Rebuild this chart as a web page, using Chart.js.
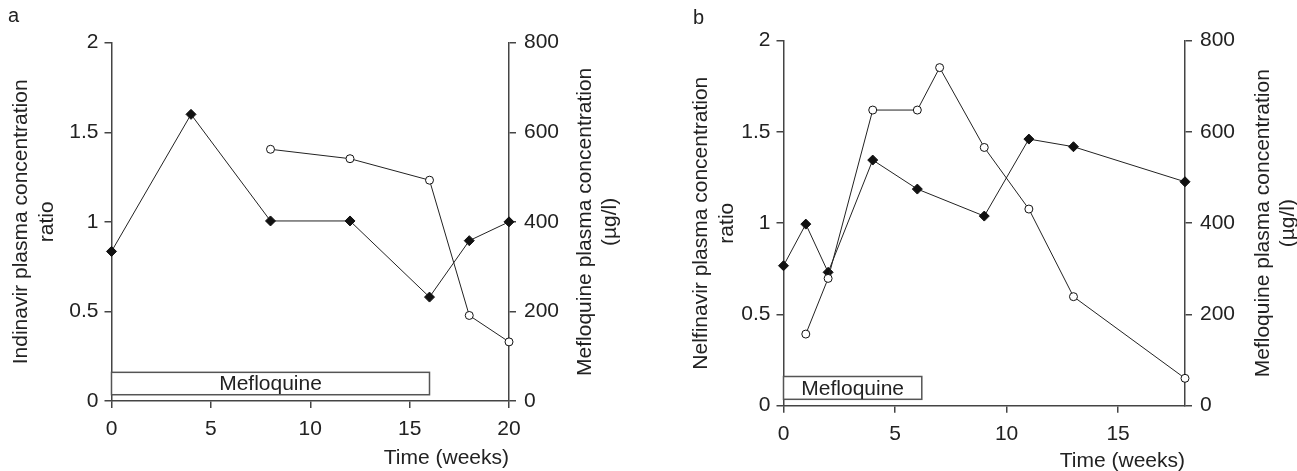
<!DOCTYPE html>
<html>
<head>
<meta charset="utf-8">
<script src="https://cdn.jsdelivr.net/npm/chart.js@4.4.1/dist/chart.umd.min.js"></script>
<style>
  html, body { margin: 0; padding: 0; background: #fff; }
  #wrap { position: relative; width: 1297px; height: 471px; }
  #panelA { position: absolute; left: 0; top: 0; }
  #panelB { position: absolute; left: 648px; top: 0; }
</style>
</head>
<body>
<div id="wrap">
  <canvas id="panelA" width="648" height="471"></canvas>
  <canvas id="panelB" width="649" height="471"></canvas>
</div>
<script>
// Panel a - indinavir
const weeksA = [0, 4, 8, 12, 16, 18, 20];
const indinavirRatio = [0.835, 1.60, 1.005, 1.005, 0.58, 0.895, 1.0];
const mefWeeksA = [8, 12, 16, 18, 20];
const mefConcA = [562, 541, 493, 191, 132];
const dosingA = [0, 16];

// Panel b - nelfinavir
const weeksB = [0, 1, 2, 4, 6, 9, 11, 13, 18];
const nelfinavirRatio = [0.767, 0.995, 0.731, 1.346, 1.187, 1.039, 1.461, 1.419, 1.227];
const mefWeeksB = [1, 2, 4, 6, 7, 9, 11, 13, 18];
const mefConcB = [157, 279, 648, 648, 741, 566, 431, 239, 60];
const dosingB = [0, 6.2];

// Ticks
const ratioTicks = [0, 0.5, 1, 1.5, 2];
const ratioTickLabels = ['0', '0.5', '1', '1.5', '2'];
const mefTicks = [0, 200, 400, 600, 800];
const mefTickLabels = ['0', '200', '400', '600', '800'];
const weekTicksA = [0, 5, 10, 15, 20];
const weekTicksB = [0, 5, 10, 15];
const weekTickLabelsA = ['0', '5', '10', '15', '20'];
const weekTickLabelsB = ['0', '5', '10', '15'];

const FONT = '"Liberation Sans", Arial, Helvetica, sans-serif';
const INK = '#222';
const AXIS = '#444';

Chart.defaults.font.family = FONT;
Chart.defaults.font.size = 21;
Chart.defaults.color = INK;

function ratioDataset(weeks, values) {
    return {
        data: weeks.map((w, i) => ({ x: w, y: values[i] })),
        yAxisID: 'y',
        borderColor: INK,
        borderWidth: 1,
        pointStyle: 'rectRot',
        pointRadius: 5,
        pointBackgroundColor: '#111',
        pointBorderColor: '#111',
        pointBorderWidth: 1,
        tension: 0,
        fill: false,
        clip: false
    };
}

function mefDataset(weeks, values) {
    return {
        data: weeks.map((w, i) => ({ x: w, y: values[i] })),
        yAxisID: 'y1',
        borderColor: INK,
        borderWidth: 1,
        pointStyle: 'circle',
        pointRadius: 4,
        pointBackgroundColor: '#fff',
        pointBorderColor: '#111',
        pointBorderWidth: 1,
        tension: 0,
        fill: false,
        clip: false
    };
}

function fixedTicks(values) {
    return scale => { scale.ticks = values.map(v => ({ value: v })); };
}

// box, panel letter and right-hand title
const panelExtras = {
    id: 'panelExtras',
    beforeDatasetsDraw(chart, args, opts) {
        const { ctx, scales: { x, y } } = chart;
        const x0 = x.getPixelForValue(opts.dosing[0]);
        const x1 = x.getPixelForValue(opts.dosing[1]);
        const yTop = y.getPixelForValue(0.16);
        const yBot = y.getPixelForValue(0.035);
        ctx.save();
        ctx.fillStyle = '#fff';
        ctx.strokeStyle = '#555';
        ctx.lineWidth = 1.5;
        ctx.fillRect(x0, yTop, x1 - x0, yBot - yTop);
        ctx.strokeRect(x0, yTop, x1 - x0, yBot - yTop);
        ctx.fillStyle = INK;
        ctx.font = '21px ' + FONT;
        ctx.textAlign = 'center';
        ctx.textBaseline = 'middle';
        ctx.fillText('Mefloquine', (x0 + x1) / 2, (yTop + yBot) / 2 + 1);
        ctx.restore();
    },
    afterDraw(chart, args, opts) {
        const { ctx, chartArea } = chart;
        ctx.save();
        ctx.fillStyle = INK;
        ctx.font = '20px ' + FONT;
        ctx.textAlign = 'left';
        ctx.textBaseline = 'middle';
        ctx.fillText(opts.letter, opts.letterX, opts.letterY);

        ctx.font = '21px ' + FONT;
        ctx.textAlign = 'center';
        ctx.translate(opts.rightTitleX, (chartArea.top + chartArea.bottom) / 2);
        ctx.rotate(-Math.PI / 2);
        opts.rightTitle.forEach((line, i) => ctx.fillText(line, 0, i * 25));
        ctx.restore();
    }
};

function makePanel(canvasId, p) {
    return new Chart(document.getElementById(canvasId), {
        type: 'line',
        data: {
            datasets: [
                mefDataset(p.mefWeeks, p.mefValues),
                ratioDataset(p.weeks, p.ratio)
            ]
        },
        plugins: [panelExtras],
        options: {
            responsive: false,
            animation: false,
            events: [],
            layout: { padding: { top: p.top, left: 0, right: 0, bottom: 0 } },
            plugins: {
                legend: { display: false },
                tooltip: { enabled: false },
                panelExtras: {
                    dosing: p.dosing,
                    letter: p.letter,
                    letterX: p.letterX,
                    letterY: p.letterY,
                    rightTitle: ['Mefloquine plasma concentration', '(\u00b5g/l)'],
                    rightTitleX: p.rightTitleX
                }
            },
            scales: {
                x: {
                    type: 'linear',
                    min: 0,
                    max: p.xMax,
                    afterBuildTicks: fixedTicks(p.weekTicks),
                    afterFit: s => { s.height = p.xHeight; },
                    grid: { drawOnChartArea: false, drawTicks: true, tickLength: 7, color: AXIS, lineWidth: 1.5 },
                    border: { display: true, color: AXIS, width: 1.5 },
                    ticks: { padding: 9, maxRotation: 0, callback: (v, i) => p.weekTickLabels[i] },
                    title: { display: true, text: 'Time (weeks)', align: 'end', font: { size: 21, lineHeight: 1.2 }, padding: { top: 0, bottom: p.xTitlePad } }
                },
                y: {
                    position: 'left',
                    min: 0,
                    max: 2,
                    afterBuildTicks: fixedTicks(ratioTicks),
                    afterFit: s => { s.width = p.leftWidth; },
                    grid: { drawOnChartArea: false, drawTicks: true, tickLength: 7, color: AXIS, lineWidth: 1.5 },
                    border: { display: true, color: AXIS, width: 1.5 },
                    ticks: { padding: 6, callback: (v, i) => ratioTickLabels[i] },
                    title: { display: true, text: [p.drug + ' plasma concentration', 'ratio'], font: { size: 21, lineHeight: 1.2 }, padding: { top: p.leftTitlePad, bottom: 0 } }
                },
                y1: {
                    position: 'right',
                    min: 0,
                    max: 800,
                    afterBuildTicks: fixedTicks(mefTicks),
                    afterFit: s => { s.width = p.rightWidth; },
                    grid: { drawOnChartArea: false, drawTicks: true, tickLength: 7, color: AXIS, lineWidth: 1.5 },
                    border: { display: true, color: AXIS, width: 1.5 },
                    ticks: { padding: 8, callback: (v, i) => mefTickLabels[i] }
                }
            }
        }
    });
}

makePanel('panelA', {
    weeks: weeksA, ratio: indinavirRatio, mefWeeks: mefWeeksA, mefValues: mefConcA,
    dosing: dosingA, drug: 'Indinavir', letter: 'a', letterX: 8, letterY: 16,
    xMax: 20, weekTicks: weekTicksA, weekTickLabels: weekTickLabelsA,
    top: 42.7, xHeight: 70, leftWidth: 111.5, rightWidth: 139,
    leftTitlePad: 9, xTitlePad: 0, rightTitleX: 585
});

makePanel('panelB', {
    weeks: weeksB, ratio: nelfinavirRatio, mefWeeks: mefWeeksB, mefValues: mefConcB,
    dosing: dosingB, drug: 'Nelfinavir', letter: 'b', letterX: 45, letterY: 18,
    xMax: 18, weekTicks: weekTicksB, weekTickLabels: weekTickLabelsB,
    top: 40.7, xHeight: 65.3, leftWidth: 135.5, rightWidth: 112,
    leftTitlePad: 41, xTitlePad: -3, rightTitleX: 615
});
</script>
</body>
</html>
